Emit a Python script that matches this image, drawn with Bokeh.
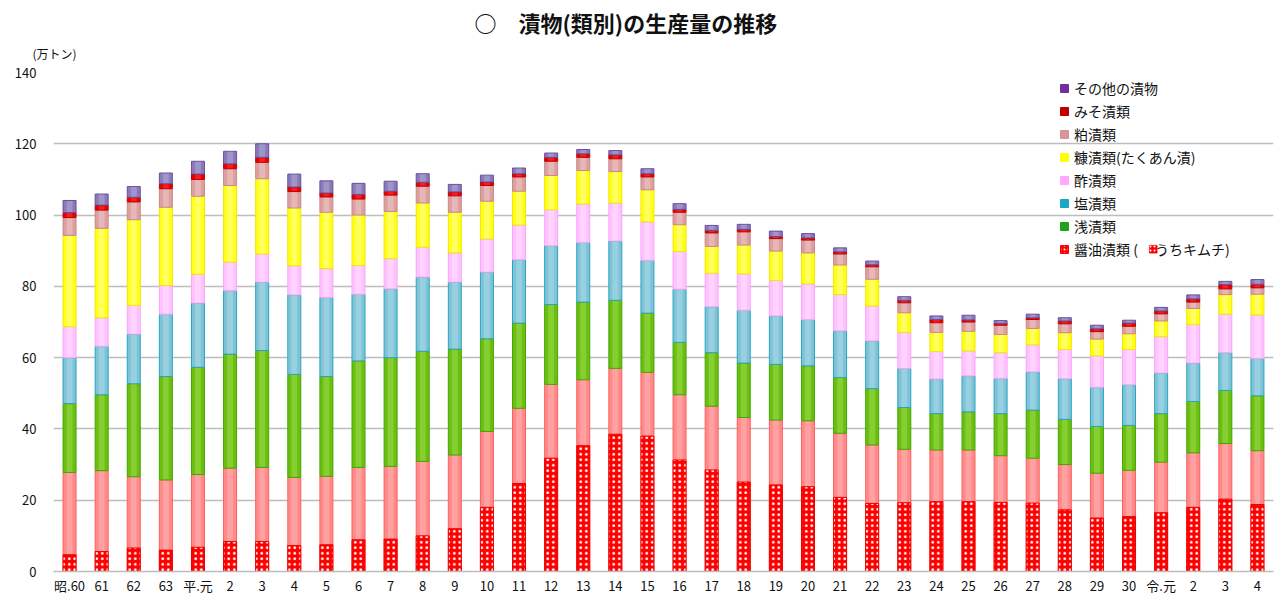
import numpy as np
from bokeh.plotting import figure
from bokeh.models import Legend, LegendItem, Title, BoxAnnotation, FixedTicker, Range1d, ColumnDataSource
from bokeh.embed import file_html
from bokeh.resources import INLINE

years = ["昭.60", "61", "62", "63", "平.元"] + [str(i) for i in range(2, 31)] + ["令.元", "2", "3", "4"]

# 単位：万トン
shoyu = [27.8, 28.3, 26.6, 25.7, 27.2, 29.0, 29.2, 26.4, 26.7, 29.2, 29.5, 30.9, 32.7, 39.3, 45.8, 52.5, 53.8, 57.0, 55.9, 49.6,
         46.4, 43.2, 42.5, 42.3, 38.8, 35.5, 34.3, 34.1, 34.1, 32.5, 31.8, 30.0, 27.6, 28.4, 30.7, 33.3, 35.9, 33.9]
kimchi = [4.7, 5.6, 6.6, 6.0, 6.8, 8.4, 8.4, 7.3, 7.5, 8.9, 9.1, 10.0, 12.0, 18.0, 24.7, 31.8, 35.3, 38.5, 38.0, 31.3,
          28.5, 25.1, 24.3, 23.8, 20.8, 19.1, 19.3, 19.6, 19.6, 19.4, 19.2, 17.3, 15.0, 15.4, 16.5, 18.0, 20.3, 18.8]
asazuke = [19.3, 21.3, 26.1, 29.0, 30.1, 32.0, 32.8, 28.9, 28.0, 29.9, 30.5, 30.9, 29.7, 26.0, 23.9, 22.4, 21.8, 19.1, 16.6, 14.7,
           15.0, 15.3, 15.6, 15.4, 15.6, 15.8, 11.7, 10.2, 10.7, 11.8, 13.5, 12.7, 13.1, 12.6, 13.6, 14.4, 14.9, 15.4]
shiozuke = [12.9, 13.6, 13.9, 17.5, 18.0, 17.8, 19.2, 22.3, 22.2, 18.7, 19.3, 20.8, 18.8, 18.7, 17.8, 16.5, 16.7, 16.6, 14.8, 14.9,
            12.9, 14.8, 13.6, 13.0, 13.1, 13.4, 11.0, 9.7, 10.1, 9.9, 10.7, 11.4, 11.0, 11.4, 11.4, 10.8, 10.6, 10.5]
suzuke = [8.7, 8.0, 8.1, 8.1, 8.1, 8.0, 7.9, 8.2, 8.1, 8.1, 8.5, 8.4, 8.2, 9.3, 9.7, 10.1, 10.8, 10.7, 10.8, 10.6,
          9.4, 10.2, 10.0, 10.0, 10.2, 9.8, 10.1, 7.7, 7.0, 7.2, 7.6, 8.2, 8.8, 9.9, 10.2, 10.8, 10.8, 12.2]
nukazuke = [25.6, 25.1, 24.0, 21.9, 21.9, 21.5, 21.1, 16.2, 15.8, 14.1, 13.2, 12.4, 11.4, 10.6, 9.5, 9.6, 9.4, 8.8, 9.0, 7.5,
            7.5, 8.1, 8.2, 8.7, 8.3, 7.5, 5.5, 5.4, 5.5, 5.1, 4.6, 4.7, 4.7, 4.4, 4.4, 4.5, 5.5, 5.8]
kasuzuke = [5.0, 5.1, 5.0, 5.2, 4.7, 4.7, 4.6, 4.6, 4.3, 4.5, 4.6, 4.7, 4.6, 4.4, 4.0, 4.0, 3.7, 3.6, 3.6, 3.5,
            3.8, 3.7, 3.5, 3.6, 3.1, 3.5, 2.8, 2.7, 2.6, 2.6, 2.5, 2.5, 2.1, 2.1, 2.0, 1.8, 1.6, 1.8]
misozuke = [1.4, 1.4, 1.3, 1.4, 1.5, 1.4, 1.4, 1.3, 1.1, 1.3, 1.1, 1.1, 1.1, 1.0, 0.9, 1.1, 1.0, 1.1, 0.9, 0.8,
            0.7, 0.7, 0.6, 0.6, 0.6, 0.6, 0.7, 0.9, 0.6, 0.5, 0.5, 0.8, 0.8, 0.9, 0.8, 0.9, 1.2, 1.0]
sonota = [3.4, 3.1, 3.0, 3.0, 3.6, 3.5, 3.8, 3.6, 3.4, 3.1, 2.8, 2.4, 2.1, 1.9, 1.6, 1.2, 1.2, 1.2, 1.4, 1.6,
          1.4, 1.4, 1.5, 1.2, 1.1, 1.0, 1.0, 1.0, 1.3, 0.8, 1.0, 0.9, 1.0, 0.8, 1.0, 1.1, 0.9, 1.3]

series = [
    ("醤油漬類", shoyu, "#FF8A8A", "#FF5E5E", "#FFB0B0"),
    ("浅漬類", asazuke, "#6CBF10", "#3FA800", "#9AD84A"),
    ("塩漬類", shiozuke, "#80C3D6", "#25A5C0", "#A6D8E6"),
    ("酢漬類", suzuke, "#FFC2FF", "#F5A8F5", "#FFDDFF"),
    ("糠漬類(たくあん漬)", nukazuke, "#FFFF1A", "#F0E800", "#FFFF90"),
    ("粕漬類", kasuzuke, "#DCA0A0", "#C98888", "#EEC4C4"),
    ("みそ漬類", misozuke, "#E80000", "#C00000", "#FF3030"),
    ("その他の漬物", sonota, "#8A7AB8", "#6A4FA0", "#AFA6D4"),
]
legend_colors = {"醤油漬類": "#FF0000", "浅漬類": "#1FA31F", "塩漬類": "#1FA6C4", "酢漬類": "#FFA8FF",
                 "糠漬類(たくあん漬)": "#FFFF00", "粕漬類": "#D99594", "みそ漬類": "#C00000", "その他の漬物": "#7030A0"}

FONT = "Noto Sans CJK JP"
x = np.arange(len(years))

p = figure(width=1280, height=605, output_backend="svg", toolbar_location=None, title=None,
           x_range=Range1d(-0.5, len(years) - 0.5), y_range=Range1d(0, 140),
           min_border_left=53, min_border_right=7, min_border_top=72, min_border_bottom=34)
p.outline_line_color = None
p.background_fill_color = "white"
p.border_fill_color = "white"

W = 0.405
bottom = np.zeros(len(years))
for name, vals, col, edge, hi in series:
    v = np.array(vals)
    top = bottom + v
    p.vbar(x=x, width=W, bottom=bottom, top=top, fill_color=col, line_color=edge, line_width=1)
    p.vbar(x=x, width=W * 0.45, bottom=bottom + 0.15, top=top - 0.15, fill_color=hi, fill_alpha=0.6, line_color=None)
    if name == "醤油漬類":
        p.vbar(x=x, width=W, bottom=0, top=np.array(kimchi), fill_color="#FF0000", line_color="#F00000",
               line_width=1, hatch_pattern="dot", hatch_color="white", hatch_scale=5.5, hatch_weight=1.6)
    bottom = top

# legend (proxy renderers with no visible point)
items = []
for name, vals, col, edge, hi in reversed(series):
    src = ColumnDataSource(data=dict(x=[np.nan], y=[np.nan]))
    c = legend_colors[name]
    if name == "醤油漬類":
        r = p.scatter(x="x", y="y", source=src, marker="square", size=8, fill_color=c, line_color=c,
                      hatch_pattern="dot", hatch_color="white", hatch_scale=4, hatch_weight=1.5)
        label = "醤油漬類 (　 うちキムチ)"
    else:
        r = p.scatter(x="x", y="y", source=src, marker="square", size=8, fill_color=c, line_color=c)
        label = name
    items.append(LegendItem(label=label, renderers=[r]))

legend = Legend(items=items, location=(1001, 311), orientation="vertical",
                glyph_width=20, glyph_height=20, label_height=23, label_standoff=0,
                spacing=0, padding=0, margin=0,
                label_text_font=FONT, label_text_font_size="14px", label_text_color="#111111",
                background_fill_alpha=0, border_line_color=None)
p.add_layout(legend)

# kimchi square inside the legend label
p.add_layout(BoxAnnotation(left=33.63, right=33.88, bottom=89.3, top=91.55, fill_color="#FF0000", fill_alpha=1,
                           line_color="#E00000", hatch_pattern="dot", hatch_color="white", hatch_scale=4,
                           hatch_weight=1.5, level="overlay"))

# axes
p.xgrid.grid_line_color = None
p.ygrid.grid_line_color = "#BDBDBD"
p.ygrid.grid_line_width = 1.5
p.yaxis.ticker = FixedTicker(ticks=list(range(0, 141, 20)))
p.yaxis.axis_line_color = None
p.yaxis.major_tick_line_color = None
p.yaxis.minor_tick_line_color = None
p.yaxis.major_label_standoff = 11
p.yaxis.major_label_text_font = FONT
p.yaxis.major_label_text_font_size = "13px"
p.yaxis.major_label_text_color = "#111111"

p.xaxis.ticker = FixedTicker(ticks=list(range(len(years))))
p.xaxis.major_label_overrides = {i: t for i, t in enumerate(years)}
p.xaxis.axis_line_color = "#BDBDBD"
p.xaxis.axis_line_width = 1.5
p.xaxis.major_tick_line_color = None
p.xaxis.minor_tick_line_color = None
p.xaxis.major_label_standoff = -2
p.xaxis.major_label_text_font = FONT
p.xaxis.major_label_text_font_size = "13px"
p.xaxis.major_label_text_color = "#111111"

# unit label and title (stacked above the frame)
p.add_layout(Title(text="(万トン)", align="left", offset=-21, standoff=21, text_font=FONT,
                   text_font_size="12px", text_font_style="normal", text_color="#111111"), "above")
p.add_layout(Title(text="○　漬物(類別)の生産量の推移", align="left", offset=421, standoff=-10, text_font=FONT,
                   text_font_size="22px", text_font_style="bold", text_color="#111111"), "above")

open("out.html", "w").write(file_html(p, INLINE))
